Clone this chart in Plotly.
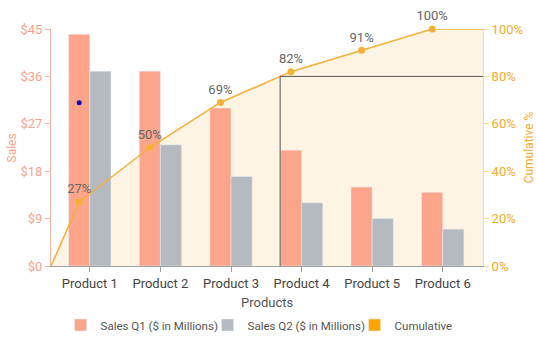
import plotly.graph_objects as go

products = ["Product 1", "Product 2", "Product 3", "Product 4", "Product 5", "Product 6"]
sales_q1 = [44, 37, 30, 22, 15, 14]
sales_q2 = [37, 23, 17, 12, 9, 7]
cumulative = [27, 50, 69, 82, 91, 100]
marker_point = 31  # stray blue dot on Product 1 (sales scale)
threshold = 80

sales_ticks = [0, 9, 18, 27, 36, 45]
sales_tick_text = ["$0", "$9", "$18", "$27", "$36", "$45"]
pct_ticks = [0, 20, 40, 60, 80, 100]
pct_tick_text = ["0%", "20%", "40%", "60%", "80%", "100%"]

Q1_COLOR = "#FDA58B"
Q2_COLOR = "#B4BAC0"
CUM_COLOR = "#F5B035"
FILL_COLOR = "rgba(253,240,218,0.75)"

idx = list(range(len(products)))
x_range = [-0.55, 5.57]
q1_centers = [i - 0.15 for i in idx]

# cumulative path: starts at left edge at 0, ends flat at right edge
cum_x = [x_range[0]] + q1_centers + [x_range[1]]
cum_y = [0] + cumulative + [cumulative[-1]]

# crossing point of cumulative line with threshold
cross_x = None
for k in range(1, len(cum_y)):
    if cum_y[k - 1] < threshold <= cum_y[k]:
        t = (threshold - cum_y[k - 1]) / (cum_y[k] - cum_y[k - 1])
        cross_x = cum_x[k - 1] + t * (cum_x[k] - cum_x[k - 1])
        break

fig = go.Figure()

# fill under cumulative (base axis, drawn below bars)
fig.add_trace(go.Scatter(x=cum_x, y=cum_y, mode="none", fill="tozeroy",
                         fillcolor=FILL_COLOR, showlegend=False, hoverinfo="skip",
                         xaxis="x", yaxis="y"))

fig.add_trace(go.Bar(x=idx, y=sales_q1, name="Sales Q1 ($ in Millions)",
                     marker=dict(color=Q1_COLOR), xaxis="x", yaxis="y2"))
fig.add_trace(go.Bar(x=idx, y=sales_q2, name="Sales Q2 ($ in Millions)",
                     marker=dict(color=Q2_COLOR), xaxis="x", yaxis="y2"))
fig.add_trace(go.Scatter(x=[q1_centers[0]], y=[marker_point], mode="markers",
                         marker=dict(color="#0A0AB4", size=5), showlegend=False,
                         xaxis="x", yaxis="y2"))

# legend-only swatch for cumulative (on its own overlay so it doesn't take a bar slot)
fig.add_trace(go.Bar(x=[None], y=[None], name="Cumulative",
                     marker=dict(color="#FFA500"), xaxis="x", yaxis="y3"))

fig.add_trace(go.Scatter(x=cum_x, y=cum_y, mode="lines", line=dict(color=CUM_COLOR, width=1.5),
                         showlegend=False, xaxis="x", yaxis="y3"))
fig.add_trace(go.Scatter(x=q1_centers, y=cumulative, mode="markers+text",
                         marker=dict(color=CUM_COLOR, size=7),
                         text=[f"{v}%" for v in cumulative], textposition="top center",
                         textfont=dict(color="#666666", size=13, family="Roboto"),
                         cliponaxis=False,
                         showlegend=False, xaxis="x", yaxis="y3"))

fig.update_layout(
    width=536, height=350,
    margin=dict(l=51, r=53, t=29, b=84, autoexpand=False),
    paper_bgcolor="white", plot_bgcolor="white",
    font=dict(family="Roboto", size=12, color="#555555"),
    barmode="group", bargap=0.4, bargroupgap=0,
    xaxis=dict(range=x_range, tickvals=idx, ticktext=products,
               showgrid=False, zeroline=False, showline=True, linecolor="#A0A0A0",
               ticks="outside", ticklen=5, tickcolor="#A0A0A0",
               tickfont=dict(size=13, color="#444444")),
    yaxis=dict(range=[0, 100], side="right", tickvals=pct_ticks, ticktext=pct_tick_text,
               showgrid=False, zeroline=False, showline=True, linecolor="#F7D9A0",
               ticks="outside", ticklen=5, tickcolor="#F7D9A0",
               tickfont=dict(size=13, color="#F5AA28"),
               title=dict(text="Cumulative %", font=dict(size=12, color="#F5AA28"), standoff=4)),
    yaxis2=dict(range=[0, 45], side="left", overlaying="y", tickvals=sales_ticks,
                ticktext=sales_tick_text,
                showgrid=False, zeroline=False, showline=True, linecolor="#F3B3A0",
                ticks="outside", ticklen=5, tickcolor="#F3B3A0",
                tickfont=dict(size=13, color="#F5A48C")),
    yaxis3=dict(range=[0, 100], overlaying="y", visible=False),
    legend=dict(orientation="h", xref="paper", yref="paper",
                x=1.043, xanchor="right", y=-0.249, yanchor="middle",
                font=dict(size=11.5, color="#555555"), traceorder="normal",
                itemwidth=30, entrywidth=102, entrywidthmode="pixels"),
    annotations=[
        dict(text="Products", xref="paper", yref="paper", x=0.5, y=-0.152,
             xanchor="center", yanchor="middle", showarrow=False,
             font=dict(size=13, color="#555555")),
        dict(text="Sales", xref="paper", yref="paper", x=-0.0903, y=0.5,
             xanchor="center", yanchor="middle", showarrow=False, textangle=-90,
             font=dict(size=12, color="#F5A48C")),
    ],
)

if cross_x is not None:
    fig.add_shape(type="line", xref="x", yref="y", x0=cross_x, x1=cross_x, y0=0, y1=threshold,
                  line=dict(color="#555555", width=1), layer="above")
    fig.add_shape(type="line", xref="x", yref="y", x0=cross_x, x1=x_range[1], y0=threshold, y1=threshold,
                  line=dict(color="#555555", width=1), layer="above")

fig.write_html("out.html")
